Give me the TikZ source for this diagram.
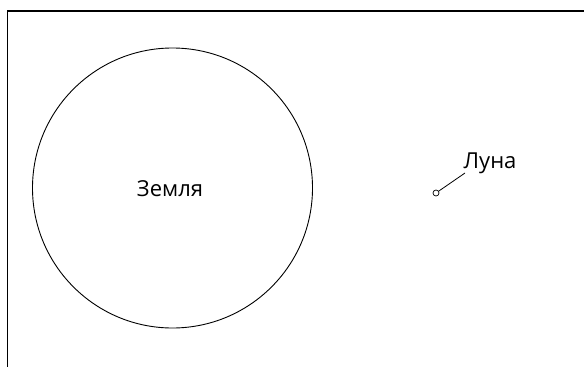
\documentclass[tikz,border=0pt]{standalone}
\usepackage{fontspec}
\setmainfont{Open Sans}
\begin{document}
\begin{tikzpicture}[x=1pt,y=-1pt,
  frame/.style={line width=1.3pt},
  body/.style={circle,draw,line width=0.9pt,inner sep=0pt},
  lbl/.style={font=\fontsize{22}{26}\selectfont,inner sep=0pt}]
\useasboundingbox (0,0) rectangle (584,367);
\coordinate (tl) at (7.5,11);
\coordinate (tr) at (584,11);
\coordinate (bl) at (7.5,367);
\draw[frame] (tr) -- (tl) -- (bl);
\node[body,minimum size=280pt] (earth) at (172.5,188) {};
\node[lbl,anchor=base] (earthlabel) at (170,196) {Земля};
\node[body,minimum size=6pt,line width=0.7pt] (moon) at (436,193) {};
\node[lbl,anchor=base west] (luna) at (463.5,168) {Луна};
\coordinate (lead) at (465,173);
\draw[line width=0.8pt] (moon) -- (lead);
\end{tikzpicture}
\end{document}
